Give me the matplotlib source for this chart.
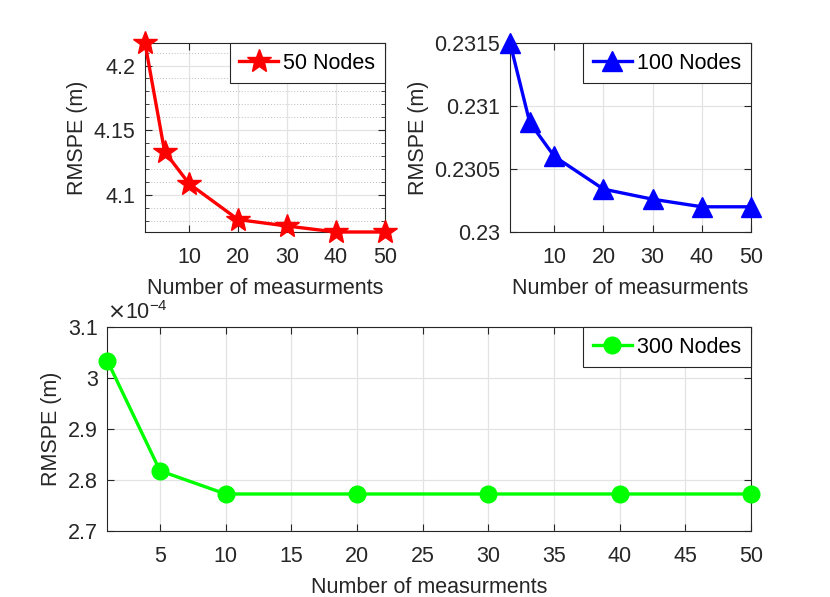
import numpy as np
import matplotlib
matplotlib.use("Agg")
import matplotlib.pyplot as plt
from matplotlib.ticker import FuncFormatter, MultipleLocator

plt.rcParams['font.family'] = ['Liberation Sans', 'DejaVu Sans']

# number of measurements
meas = [1, 5, 10, 20, 30, 40, 50]

# RMSPE per network size
rmspe_50 = [4.2174, 4.1335, 4.1087, 4.0810, 4.0760, 4.0714, 4.0714]
rmspe_100 = [0.23150, 0.23087, 0.23060, 0.23034, 0.23026, 0.23020, 0.23020]
rmspe_300 = [3.0333e-4, 2.818e-4, 2.7725e-4, 2.7725e-4, 2.7725e-4, 2.7725e-4, 2.7725e-4]

dark = '#262626'
gridc = '#e3e3e3'
fs = 15.5


def style(ax):
    ax.grid(True, color=gridc, linewidth=0.9)
    ax.set_axisbelow(True)
    ax.tick_params(direction='in', length=5, top=True, right=True,
                   labelsize=fs, colors=dark, width=0.8)
    ax.tick_params(axis='x', pad=11)
    ax.tick_params(axis='y', pad=7)
    for s in ax.spines.values():
        s.set_color(dark)
        s.set_linewidth(0.8)
    ax.set_xlabel('Number of measurments', fontsize=fs, color=dark, labelpad=7)
    ax.set_ylabel('RMSPE (m)', fontsize=fs, color=dark, labelpad=4)


def legend(ax):
    leg = ax.legend(loc='upper right', fontsize=fs, fancybox=False, framealpha=1,
                    edgecolor=dark, handlelength=1.8, borderpad=0.45,
                    handletextpad=0.25, borderaxespad=0.0)
    leg.get_frame().set_linewidth(0.8)


fig = plt.figure(figsize=(8.3, 5.97), dpi=100)

ax1 = fig.add_axes([0.1747, 0.6114, 0.2892, 0.3166])
ax1.plot(meas, rmspe_50, color='red', marker='*', markersize=18, linewidth=2.4,
         label='50 Nodes', clip_on=False, zorder=3)
ax1.set_xlim(1, 50)
ax1.set_ylim(min(rmspe_50), max(rmspe_50))
ax1.set_xticks([10, 20, 30, 40, 50])
ax1.set_yticks([4.1, 4.15, 4.2])
ax1.yaxis.set_minor_locator(MultipleLocator(0.01))
ax1.grid(True, which='minor', axis='y', color='#bdbdbd', linestyle=(0, (1, 2)), linewidth=0.7)
ax1.tick_params(which='minor', direction='in', length=3, right=True, color=dark)
ax1.yaxis.set_major_formatter(FuncFormatter(lambda v, p: '%g' % round(v, 4)))
style(ax1)
legend(ax1)

ax2 = fig.add_axes([0.6145, 0.6114, 0.2904, 0.3166])
ax2.plot(meas, rmspe_100, color='blue', marker='^', markersize=14, linewidth=2.4,
         label='100 Nodes', clip_on=False, zorder=3)
ax2.set_xlim(1, 50)
ax2.set_ylim(0.23, 0.2315)
ax2.set_xticks([10, 20, 30, 40, 50])
ax2.set_yticks([0.23, 0.2305, 0.231, 0.2315])
ax2.yaxis.set_major_formatter(FuncFormatter(lambda v, p: '%g' % round(v, 5)))
style(ax2)
legend(ax2)

ax3 = fig.add_axes([0.1295, 0.1106, 0.7753, 0.3417])
ax3.plot(meas, rmspe_300, color='#00ff00', marker='o', markersize=12, linewidth=2.4,
         label='300 Nodes', clip_on=False, zorder=3)
ax3.set_xlim(1, 50)
ax3.set_ylim(2.7e-4, 3.1e-4)
ax3.set_xticks(np.arange(5, 51, 5))
ax3.set_yticks([2.7e-4, 2.8e-4, 2.9e-4, 3.0e-4, 3.1e-4])
ax3.yaxis.set_major_formatter(FuncFormatter(lambda v, p: '%g' % round(v * 1e4, 3)))
ax3.text(0.0, 1.015, r'$\times\mathregular{10^{-4}}$', transform=ax3.transAxes,
         fontsize=fs, color=dark, ha='left', va='bottom')
style(ax3)
legend(ax3)

fig.savefig('out.png', dpi=100)
